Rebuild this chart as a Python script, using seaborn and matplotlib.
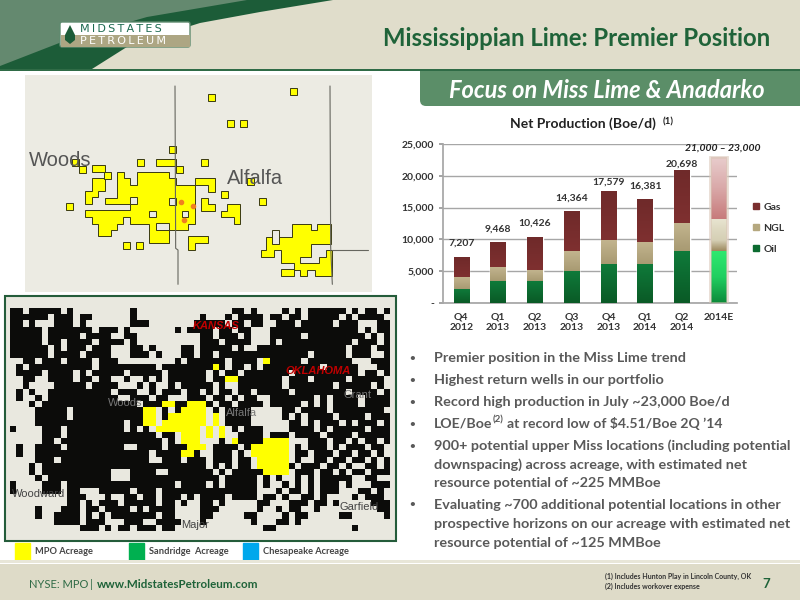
import numpy as np
import pandas as pd
import matplotlib
matplotlib.use('Agg')
import matplotlib.pyplot as plt
import seaborn as sns
from matplotlib.colors import ListedColormap, LinearSegmentedColormap
from matplotlib.patches import Polygon, Rectangle, FancyBboxPatch, Patch

# Chart data
quarters = ['Q4\n2012', 'Q1\n2013', 'Q2\n2013', 'Q3\n2013', 'Q4\n2013', 'Q1\n2014', 'Q2\n2014', '2014E']
oil = [2200, 3400, 3400, 5000, 6100, 6000, 8100, 8100]
ngl = [1800, 2100, 1700, 3000, 3700, 3500, 4400, 4900]
gas = [3207, 3968, 5326, 6364, 7779, 6881, 8198, 9800]
total_labels = ['7,207', '9,468', '10,426', '14,364', '17,579', '16,381', '20,698']
label_gap = [14, 14, 14, 14, 9.5, 13, 7]
y_ticks = [0, 5000, 10000, 15000, 20000, 25000]
y_labels = ['-', '5,000', '10,000', '15,000', '20,000', '25,000']

bullets = [
    (358, 'Premier position in the Miss Lime trend', True),
    (380, 'Highest return wells in our portfolio', True),
    (402, 'Record high production in July ~23,000 Boe/d', True),
    (446, '900+ potential upper Miss locations (including potential', True),
    (465, 'downspacing) across acreage, with estimated net', False),
    (483, 'resource potential of ~225 MMBoe', False),
    (505, 'Evaluating ~700 additional potential locations in other', True),
    (524, 'prospective horizons on our acreage with estimated net', False),
    (543, 'resource potential of ~125 MMBoe', False),
]

# Acreage map, read cell by cell: # block, y MPO, . empty
map_left = [
    "##.#####.#.........#..........",
    "######.###.##......#..........",
    "##.#...###.#.......###.......#",
    "#####.#######.###.#.......#.##",
    "#####.#####.####..##..........",
    "#####.##.####.####.#..........",
    "######.#.###.###...##.#....##.",
    "######.####.####...###.#...##.",
    "..##.###.####.###.........#.##",
    ".#.##########.#########.######",
    ".####.####.#.#####.#####.#####",
    "..##..####.##.##..#..#.#.#####",
    "..#....#####.####...#.#..#.###",
    ".#.#..##########.###..#.###.##",
    ".#..#.###########..###.##...##",
    "...#.###############.###yy##yy",
    "....#####.###########yy.#.#yyy",
    "....#####.###########yy.#yyyyy",
    "....##############.##yy.yyyyyy",
    "#....###.#########.#.#.yyyyyyy",
    ".....###.##############.##.yyy",
    ".....##.################.#.yyy",
    ".#..####.#########..####.###yy",
    ".#..##################.####yy#",
    "....###.##############..###.##",
    "...#.#########################",
    "...#.###########...####..#####",
    "....#.##########...###########",
    "#....###.#################.###",
    "#....###.##...#####.###.######",
    ".........###...#..##.##.###.#.",
    ".........##.#.###.#####.##.#..",
    "....#...###.##.####.#.####....",
    "....#..####.#.#.#######.##....",
    ".......####.###...###..####...",
    "...........###.#.##.###.##....",
]
map_right = [
    ".....##.#....#.#.######.#.##.#",
    "#...#.####.##.##.#####.#.####.",
    "####.##.##..###.#####.###...##",
    "##.##.##...##############.#.##",
    "##.###.#...#####.#########.#.#",
    "###.####...#.###########.###.#",
    "#####.#..##############.###.##",
    "##.##############.#####.###..#",
    "####.####.y#####.#######...###",
    "##y#.##.#.#########.#####...##",
    "#.#.##.#######.##########.##.#",
    "#.##yy#######.###.#####.#####.",
    "##.#..#######.#######.#####.#.",
    ".#.##.##.#####.########.####.#",
    "#.##.#.##..#######.#.####.####",
    "y#.##.####.#####.#.#.####.####",
    "y.#.####.....##.####.########.",
    "y.y.####.....#.#.####.####.###",
    "y.y.####......##.#.###.#.###.#",
    ".y.y.#.###....####.#.#####.###",
    ".y.y..####.###.####.####.#####",
    "...#.y####yyyy...###.##.#.##.#",
    "y.####.#yyyyyy.#.###.#.###.##.",
    "..###.#.yyyyyy.##.###.##.##.#.",
    "#.###.##.yyyyy.#..##.##.##.#.#",
    "#.#.#.##.yyyyy#.###.##.#..##.#",
    "##.#.#####yyyy.###.##.#.##.###",
    "###.#####.#.#..#.#.#####..##..",
    "#.#.#####.#..#.#.#.###.#...###",
    "#########...#.##.#.###...##.#.",
    "####.####.##.#..##.#....#.###.",
    "##.#.....##...###.##.#.....###",
    "###......#..#.##..#.........##",
    "##.....##....#.##.....##.....#",
    "#.......#...##.#..............",
    "..........##............#.....",
]

# Zoomed detail map, outlines are in 3x screen units
detail_squares = [(625, 283), (871, 265), (682, 361), (721, 361), (507, 438), (410, 476), (604, 477),
                  (197, 610), (369, 727), (409, 727), (662, 574), (778, 594), (740, 535), (527, 497),
                  (237, 497), (216, 476), (313, 515)]
detail_shapes = [
    [(411, 515), (508, 515), (508, 535), (527, 535), (527, 555), (585, 555), (585, 672), (565, 672), (565, 690),
     (508, 690), (508, 728), (448, 728), (448, 672), (390, 672), (390, 652), (370, 652), (370, 672), (352, 672),
     (352, 690), (332, 690), (332, 709), (294, 709), (294, 672), (275, 672), (275, 652), (256, 652), (256, 631),
     (390, 631), (390, 612), (314, 612), (314, 593), (352, 593), (352, 515), (372, 515), (372, 535), (390, 535),
     (390, 555), (411, 555)],
    [(275, 535), (314, 535), (314, 572), (295, 572), (295, 592), (275, 592), (275, 611), (256, 611), (256, 572),
     (275, 572)],
    [(585, 535), (644, 535), (644, 575), (625, 575), (625, 555), (585, 555)],
    [(604, 593), (624, 593), (624, 613), (644, 613), (644, 633), (604, 633)],
    [(682, 613), (721, 613), (721, 673), (702, 673), (702, 652), (662, 652), (662, 632), (682, 632)],
    [(565, 709), (623, 709), (623, 729), (585, 729), (585, 750), (565, 750)],
    [(875, 672), (932, 672), (932, 691), (952, 691), (952, 672), (992, 672), (992, 733), (932, 733), (932, 770),
     (899, 770), (899, 790), (957, 790), (957, 770), (977, 770), (977, 751), (997, 751), (997, 829), (945, 829),
     (945, 810), (920, 810), (920, 829), (900, 829), (900, 810), (881, 810), (881, 790), (842, 790), (842, 750),
     (822, 750), (822, 770), (783, 770), (783, 750), (797, 750), (797, 712), (875, 712)],
    [(842, 808), (881, 808), (881, 829), (842, 829)],
    [(468, 476), (527, 476), (527, 497), (468, 497)],
    [(277, 495), (316, 495), (316, 515), (277, 515)],
]
detail_holes = [(391, 592, 20, 20), (508, 594, 19, 20), (448, 632, 20, 20), (545, 632, 20, 20), (468, 670, 40, 20),
                (817, 691, 19, 40)]
detail_lines = [[(525, 258), (527, 745), (534, 750), (534, 853)], [(990, 258), (992, 740), (997, 853)],
                [(997, 750), (1103, 750)]]
detail_dots = [(181, 202), (193, 206), (184, 220)]

sns.set_theme(style='white')
plt.rcParams['font.family'] = ['Lato', 'DejaVu Sans']

W, H = 800, 600
fig = plt.figure(figsize=(8, 6), dpi=100, facecolor='white')


def axes_px(x0, y0, x1, y1):
    return fig.add_axes([x0 / W, 1 - y1 / H, (x1 - x0) / W, (y1 - y0) / H])


def txt(x, y, s, size=10, color='#333333', weight='normal', style='normal', ha='left', **kw):
    fig.text(x / W, 1 - y / H, s, fontsize=size, color=color, fontweight=weight, fontstyle=style,
             ha=ha, va='center', **kw)


# Slide background in pixel units
bg = fig.add_axes([0, 0, 1, 1])
bg.set_xlim(0, W)
bg.set_ylim(H, 0)
bg.axis('off')

# Banner goes first so the header hides its top corners
bg.add_patch(FancyBboxPatch((420, 55), 420, 51, boxstyle='round,pad=0,rounding_size=6', color='#5B8E68', lw=0))

BEIGE = '#E0DDCB'
bg.add_patch(Rectangle((0, 0), W, 69, color=BEIGE, lw=0))
bg.add_patch(Polygon([(333, 0), (260, 12), (200, 23), (130, 45), (92, 69), (0, 69), (0, 0)], color='#1C5C38', lw=0))
bg.add_patch(Polygon([(247, 0), (147, 17), (67, 40), (0, 66), (0, 0)], color='#64896F', lw=0))
bg.add_patch(Rectangle((0, 68.5), W, 2, color='#2F6B46', lw=0))

# Logo
bg.add_patch(FancyBboxPatch((60, 22), 130, 25, boxstyle='round,pad=0,rounding_size=2', fc='white', ec='#5F8B6F', lw=1))
bg.add_patch(Rectangle((60.5, 34.5), 129, 12, color='#ADA683', lw=0))
bg.add_patch(Polygon([(70, 25), (75, 35), (75, 40), (70, 44), (65, 40), (65, 35)], color='#1C5C38', lw=0))
txt(80, 28.5, 'M\u2009I\u2009D\u2009S\u2009T\u2009A\u2009T\u2009E\u2009S', size=8, color='#1C6A50', family='DejaVu Sans')
txt(80, 41, 'P\u2009E\u2009T\u2009R\u2009O\u2009L\u2009E\u2009U\u2009M', size=8, color='white', family='DejaVu Sans')

# Title and banner text
txt(383, 38, 'Mississippian Lime: Premier Position', size=17.2, color='#1F6339', weight='bold')
txt(607, 90, 'Focus on Miss Lime & Anadarko', size=17, color='white', weight='bold', style='italic', ha='center')

# Detail map
bg.add_patch(Rectangle((25, 75), 347, 217, color='#ECEBE3', lw=0))
for shape in detail_shapes:
    bg.add_patch(Polygon(np.array(shape) / 3, fc='#FFFF00', ec='#3A3A10', lw=0.7))
for sx, sy in detail_squares:
    bg.add_patch(Rectangle((sx / 3, sy / 3), 7, 7, fc='#FFFF00', ec='#3A3A10', lw=0.7))
for hx, hy, hw, hh in detail_holes:
    bg.add_patch(Rectangle((hx / 3, hy / 3), hw / 3, hh / 3, fc='#ECEBE3', ec='#3A3A10', lw=0.7))
for line in detail_lines:
    pts = np.array(line) / 3
    bg.plot(pts[:, 0], pts[:, 1], color='#66665F', lw=0.8)
for dx, dy in detail_dots:
    bg.plot(dx, dy, 'o', color='#F08020', ms=3)
txt(29, 161, 'Woods', size=14.5, color='#555555', family='Liberation Sans')
txt(227, 179, 'Alfalfa', size=14.5, color='#555555', family='Liberation Sans')

# Overview map frame and legend
bg.add_patch(Rectangle((5, 296), 391, 245, fc='#E9E8DF', ec='#245C3A', lw=1.5))
grid = pd.DataFrame([list(a.ljust(30, '.')[:30] + b.ljust(30, '.')[:30]) for a, b in zip(map_left, map_right)])
grid = grid.replace({'.': 0, '#': 1, 'y': 2}).astype(int)
ax_map = axes_px(10, 308, 390, 531)
sns.heatmap(grid, cmap=ListedColormap(['#E9E8DF', '#0C0C0A', '#FFFF00']), vmin=0, vmax=2, cbar=False,
            xticklabels=False, yticklabels=False, ax=ax_map)
txt(193, 326, 'KANSAS', size=8, color='#C00000', weight='bold', style='italic', family='Liberation Sans')
txt(285, 371, 'OKLAHOMA', size=8, color='#C00000', weight='bold', style='italic', family='Liberation Sans')
txt(108, 403, 'Woods', size=8, color='#777777', family='Liberation Sans')
txt(226, 413, 'Alfalfa', size=8, color='#777777', family='Liberation Sans')
txt(344, 395, 'Grant', size=8, color='#777777', family='Liberation Sans')
txt(12, 494, 'Woodward', size=8, color='#444444', family='Liberation Sans')
txt(181, 525, 'Major', size=8, color='#444444', family='Liberation Sans')
txt(339, 507, 'Garfield', size=8, color='#444444', family='Liberation Sans')

for sw_x, sw_c, name, name_x in [(15, '#FFFF00', 'MPO Acreage', 35), (129, '#00B050', 'Sandridge  Acreage', 149),
                                 (243, '#00A8EC', 'Chesapeake Acreage', 263)]:
    bg.add_patch(Rectangle((sw_x, 543), 15, 18, fc=sw_c, ec=sw_c, lw=1))
    txt(name_x, 552, name, size=6.7, color='#444444', weight='bold')

# Bullets
for by, line, dot in bullets:
    if dot:
        txt(412, by, '•', size=7, color='#595959', weight='bold', ha='center')
    txt(434, by, line, size=10.4, color='#595959', weight='bold')
txt(412, 424, '•', size=7, color='#595959', weight='bold', ha='center')
txt(434, 424, 'LOE/Boe', size=10.2, color='#595959', weight='bold')
txt(492.5, 420, '(2)', size=7, color='#595959', weight='bold')
txt(507, 424, 'at record low of $4.51/Boe 2Q \u201914', size=10.1, color='#595959', weight='bold')

# Footer
bg.add_patch(Rectangle((0, 560), W, 3, color='#E8E6D8', lw=0))
bg.add_patch(Rectangle((0, 564), W, 36, color='#DEDBC8', lw=0))
txt(29, 584, 'NYSE: MPO', size=8, color='#2F6B46')
txt(91, 584, '|', size=8, color='#2F6B46', ha='center')
txt(97, 584, 'www.MidstatesPetroleum.com', size=8.4, color='#1F6339', weight='bold')
txt(605, 576, '(1) Includes Hunton Play in Lincoln County, OK', size=5, color='#333333', weight='bold')
txt(605, 586, '(2) Includes workover expense', size=5, color='#333333', weight='bold')
txt(766, 584, '7', size=9.5, color='#1F6339', weight='bold', ha='center')

# Stacked production chart
ax = axes_px(443, 144, 737, 303)
oil_top = np.array(oil)
ngl_top = oil_top + np.array(ngl)
gas_top = ngl_top + np.array(gas)
sns.barplot(x=quarters, y=gas_top, color='#7A2E2E', width=0.42, ax=ax)
sns.barplot(x=quarters, y=ngl_top, color='#B5A87F', width=0.42, ax=ax)
sns.barplot(x=quarters, y=oil_top, color='#0C6B30', width=0.42, ax=ax)


def gradient(x0, x1, y0, y1, colours):
    cmap = LinearSegmentedColormap.from_list('g', colours)
    ax.imshow(np.linspace(0, 1, 64).reshape(-1, 1), cmap=cmap, extent=(x0, x1, y0, y1), aspect='auto',
              origin='upper', zorder=3)


# solid colours under the gradients come from seaborn, last column is the lighter estimate
shades = [['#6F2A2A', '#7F3030'], ['#C2B48E', '#A89A72'], ['#0F7A3A', '#0A5A26']]
est_shades = [['#E8CCCC', '#D9A8A8', '#C77A7A'], ['#E8E4D0', '#DDD8C0', '#D5CFB5', '#9E8A60'], ['#2EE86F', '#1FCF60', '#0D8A3A']]
lows = [ngl_top, oil_top, np.zeros(8)]
for cont, cols, est, low in zip(ax.containers, shades, est_shades, lows):
    for i, p in enumerate(cont.patches):
        x0 = p.get_x()
        x1 = x0 + p.get_width()
        gradient(x0, x1, low[i], p.get_height(), est if i == 7 else cols)

# soft edge of the estimate bar
ax.add_patch(Rectangle((6.77, 0), 0.46, 22900, fc='none', ec='#D9C5B5', lw=2, alpha=0.6, zorder=4))

ax.set_xlim(-0.5, 7.5)
ax.set_ylim(0, 25000)
ax.set_yticks(y_ticks)
ax.set_yticklabels(y_labels)
ax.set_xticks(np.arange(-0.5, 8, 1), minor=True)
ax.tick_params(axis='x', which='major', length=0, labelsize=7.5, pad=7, labelcolor='#333333')
ax.tick_params(axis='x', which='minor', length=3, color='#999999')
ax.tick_params(axis='y', length=3, color='#999999', labelsize=7.5, labelcolor='#333333', left=True)
for lab in ax.get_xticklabels() + ax.get_yticklabels():
    lab.set_fontweight('bold')
ax.grid(axis='y', color='#A6A6A6', lw=1)
ax.set_axisbelow(True)
sns.despine(ax=ax, right=True, top=True)
ax.spines['left'].set_color('#A6A6A6')
ax.spines['bottom'].set_color('#A6A6A6')

for i, (lab, gap) in enumerate(zip(total_labels, label_gap)):
    ax.annotate(lab, (i, gas_top[i]), xytext=(0, gap * 0.72), textcoords='offset points', ha='center', va='center',
                fontsize=7.5, fontweight='bold', color='#333333', annotation_clip=False)

handles = [Patch(color='#7A2E2E', label='Gas'), Patch(color='#B5A87F', label='NGL'), Patch(color='#0C6B30', label='Oil')]
leg = ax.legend(handles=handles, loc='center left', bbox_to_anchor=(1.037, 0.47), frameon=False, fontsize=7.5,
                handlelength=0.6, handleheight=0.6, handletextpad=0.4, labelspacing=1.15, borderpad=0)
for t in leg.get_texts():
    t.set_fontweight('bold')
    t.set_color('#333333')

txt(583, 124, 'Net Production (Boe/d)', size=10, color='#222222', weight='bold', ha='center')
txt(663, 122, '(1)', size=7, color='#222222', weight='bold')
txt(723, 148, '21,000 \u2013 23,000', size=7.5, color='#222222', weight='bold', style='italic', ha='center')

fig.savefig('out.png', dpi=100)
